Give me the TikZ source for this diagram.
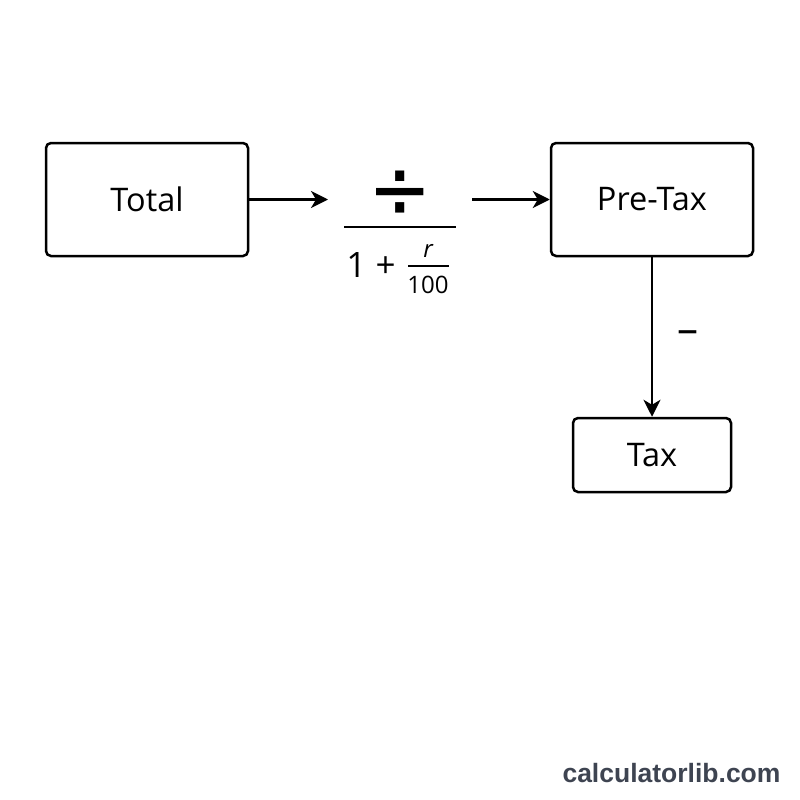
\documentclass[tikz,border=0pt]{standalone}
\usepackage{fontspec}
\setmainfont{Open Sans}
\newfontfamily\signfont{DejaVu Sans}
\newfontfamily\markfont{Liberation Sans}
\usepackage{tikz}
\usetikzlibrary{arrows.meta, positioning}
\definecolor{markgray}{HTML}{3E4451}

\begin{document}
\begin{tikzpicture}[x=1pt,y=-1pt,on grid,>={Stealth[length=17pt,width=17pt,inset=5pt]},
        box/.style={draw, line width=2.5pt, rounded corners=5pt, font=\fontsize{32.5}{38}\selectfont},
        flow/.style={->, line width=2.2pt}]
      % 1pt per pixel, y downwards
      \useasboundingbox (0,0) rectangle (800,800);

      \node[box, minimum width=202pt, minimum height=113pt] (total) at (147,199.5) {Total};
      \node[box, minimum width=202pt, minimum height=113pt] (pretax) [right=505pt of total] {Pre-Tax};
      \node[box, minimum width=158pt, minimum height=74pt]  (tax)    [below=255.5pt of pretax] {Tax};

      % the divisor
      \node[xscale=1.08, yscale=1.25, transform shape] (div) at (400,195) {\signfont\fontsize{70}{70}\selectfont ÷};
      \draw[line width=2.2pt] (344,227) -- (456,227);
      \node (one) at (371,265) {\fontsize{35}{40}\selectfont 1 +};
      \node (r)   at (428,251) {\fontsize{24}{28}\selectfont\itshape r};
      \draw[line width=1.8pt] (408,266) -- (449,266);
      \node (hundred) at (428,285) {\fontsize{24}{28}\selectfont 100};

      \coordinate (in)  at (328,199.5);
      \coordinate (out) at (472,199.5);
      \draw[flow] (total) -- (in);
      \draw[flow] (out) -- (pretax);
      \draw[flow] (pretax) -- node[xshift=36pt, font=\fontsize{42}{42}\selectfont] {–} (tax);

      \node[font=\markfont\bfseries\fontsize{26.5}{30}\selectfont, text=markgray, anchor=east] (mark) at (784,773) {calculatorlib.com};
    \end{tikzpicture}
\end{document}
